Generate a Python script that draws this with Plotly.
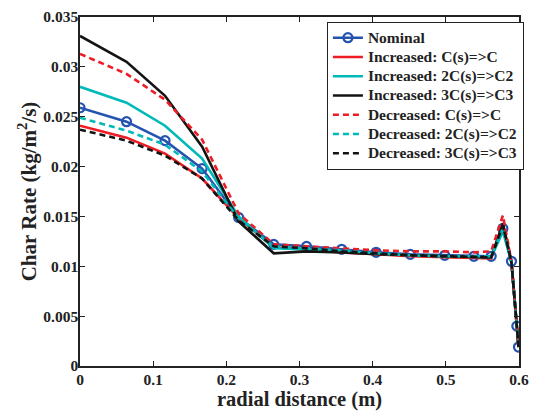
import plotly.graph_objects as go

x = [0, 0.0636, 0.1162, 0.1669, 0.2168, 0.2648, 0.3096, 0.3576, 0.4047,
     0.4514, 0.4985, 0.5383, 0.562, 0.578, 0.5897, 0.597, 0.5993]

nominal = [0.0259, 0.0245, 0.0226, 0.0198, 0.0149, 0.0122, 0.0120, 0.0117, 0.0114,
           0.0112, 0.0111, 0.0110, 0.0110, 0.0138, 0.0105, 0.0040, 0.0019]
inc_c = [0.0241, 0.0229, 0.0213, 0.0188, 0.0148, 0.0119, 0.0117, 0.0114, 0.0112,
         0.0110, 0.0109, 0.0108, 0.0108, 0.0143, 0.0104, 0.0040, 0.0019]
inc_2c = [0.0280, 0.0264, 0.0241, 0.0208, 0.0150, 0.0118, 0.0117, 0.0115, 0.0113,
          0.0111, 0.0110, 0.0109, 0.0109, 0.0135, 0.0104, 0.0040, 0.0019]
inc_3c = [0.0331, 0.0305, 0.0271, 0.0220, 0.0145, 0.0113, 0.0115, 0.0114, 0.0112,
          0.0111, 0.0110, 0.0109, 0.0109, 0.0143, 0.0104, 0.0040, 0.0019]
dec_c = [0.0313, 0.0293, 0.0267, 0.0227, 0.0153, 0.0122, 0.0120, 0.0118, 0.0116,
         0.0115, 0.0115, 0.0114, 0.0115, 0.0151, 0.0105, 0.0040, 0.0019]
dec_2c = [0.0249, 0.0236, 0.0222, 0.0195, 0.0148, 0.0120, 0.0118, 0.0116, 0.0113,
          0.0111, 0.0110, 0.0110, 0.0110, 0.0138, 0.0104, 0.0040, 0.0019]
dec_3c = [0.0237, 0.0226, 0.0211, 0.0188, 0.0146, 0.0120, 0.0118, 0.0115, 0.0113,
          0.0111, 0.0110, 0.0109, 0.0109, 0.0141, 0.0104, 0.0040, 0.0019]

names = ["Nominal", "Increased: C(s)=>C", "Increased: 2C(s)=>C2", "Increased: 3C(s)=>C3",
         "Decreased: C(s)=>C", "Decreased: 2C(s)=>C2", "Decreased: 3C(s)=>C3"]

x_ticks = [0, 0.1, 0.2, 0.3, 0.4, 0.5, 0.6]
x_ticklabels = ["0", "0.1", "0.2", "0.3", "0.4", "0.5", "0.6"]
y_ticks = [0, 0.005, 0.01, 0.015, 0.02, 0.025, 0.03, 0.035]
y_ticklabels = ["0", "0.005", "0.01", "0.015", "0.02", "0.025", "0.03", "0.035"]

BLUE = "#2453b0"
RED = "#ee1c24"
CYAN = "#00b9b9"
BLACK = "#141414"
DASH = "6px,4px"
LW = 2.6
FAM = "Liberation Serif, Times New Roman, serif"
TXT = "#222"


def leg(n):
    return '<span style="font-size:15.5px"><b>%s</b></span>' % n


fig = go.Figure()
fig.add_trace(go.Scatter(x=x, y=nominal, name=leg(names[0]), mode="lines+markers",
                         line=dict(color=BLUE, width=LW),
                         marker=dict(symbol="circle-open", size=9, color=BLUE,
                                     line=dict(width=2.2, color=BLUE))))
series = [
    (inc_c, RED, "solid"), (inc_2c, CYAN, "solid"), (inc_3c, BLACK, "solid"),
    (dec_c, RED, DASH), (dec_2c, CYAN, DASH), (dec_3c, BLACK, DASH),
]
for (vals, col, dash), nm in zip(series, names[1:]):
    fig.add_trace(go.Scatter(x=x, y=vals, name=leg(nm), mode="lines",
                             line=dict(color=col, width=LW, dash=dash)))

axis_common = dict(showline=True, linecolor="#222", linewidth=1.5, mirror="ticks",
                   ticks="inside", ticklen=5, tickwidth=1, tickcolor="#222",
                   showgrid=False, zeroline=False,
                   tickfont=dict(size=15.5, family=FAM, color=TXT, weight="bold"))

fig.update_layout(
    width=537, height=411,
    margin=dict(l=80, r=8, t=12, b=45),
    paper_bgcolor="white", plot_bgcolor="white",
    font=dict(family=FAM, size=15, color=TXT, weight="bold"),
    xaxis=dict(range=[0, 0.6], tickvals=x_ticks, ticktext=["<b>%s</b>" % t for t in x_ticklabels],
               ticklabelstandoff=-1,
               title=dict(text="<b>radial distance (m)</b>", standoff=0,
                          font=dict(size=20.5, family=FAM, color=TXT, weight="bold")),
               **axis_common),
    yaxis=dict(range=[0, 0.035], tickvals=y_ticks, ticktext=["<b>%s</b>" % t for t in y_ticklabels],
               ticklabelstandoff=-3,
               title=dict(text="<b>Char Rate (kg/m<sup>2</sup>/s)</b>", standoff=1,
                          font=dict(size=21, family=FAM, color=TXT, weight="bold")),
               **axis_common),
    showlegend=True,
    legend=dict(x=0.562, y=0.986, xanchor="left", yanchor="top",
                bgcolor="white", bordercolor="#222", borderwidth=1.2,
                font=dict(size=12.5, family=FAM, color=TXT, weight="bold"),
                tracegroupgap=0, itemwidth=30),
)

fig.write_html("out.html")
